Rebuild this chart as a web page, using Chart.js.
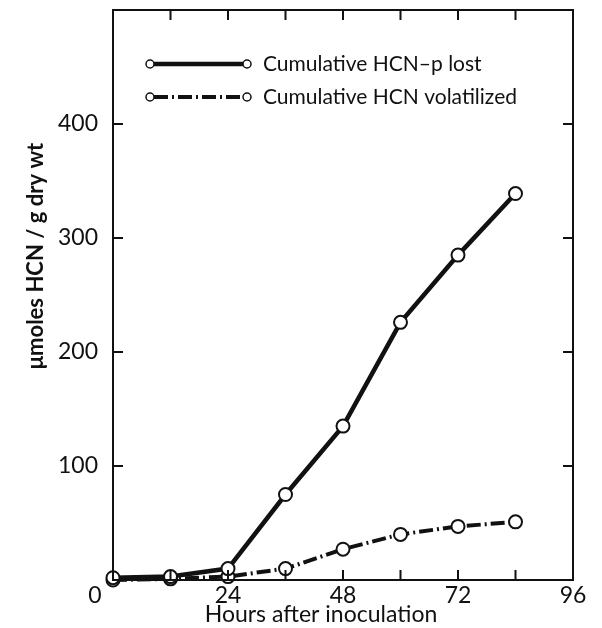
<!DOCTYPE html>
<html>
<head>
<meta charset="utf-8">
<script src="https://cdn.jsdelivr.net/npm/chart.js@4"></script>
<style>
  html, body { margin: 0; padding: 0; background: #fff; }
</style>
</head>
<body>
<canvas id="myChart" width="602" height="628"></canvas>
<script>
// hours after inoculation
var hours = [0, 12, 24, 36, 48, 60, 72, 84];
// cumulative HCN-p lost, umoles / g dry wt
var hcnLost = [2, 3, 10, 75, 135, 226, 285, 339];
// cumulative HCN volatilized
var hcnVolatilized = [0, 1, 3, 10, 27, 40, 47, 51];

var seriesNames = ["Cumulative HCN\u2013p lost", "Cumulative HCN volatilized"];
var xTickLabels = [0, 24, 48, 72, 96];
var yTickLabels = [100, 200, 300, 400];
var xTitle = "Hours after inoculation";
var yTitle = "\u03bcmoles HCN / g dry wt";

var FONT = "Lato, 'DejaVu Sans', sans-serif";

function toPoints(xs, ys) {
  var out = [];
  for (var i = 0; i < xs.length; i++) out.push({ x: xs[i], y: ys[i] });
  return out;
}

// box, inward ticks, tick labels, titles and legend
var framePlugin = {
  id: "frame",
  afterDatasetsDraw: function (chart) {
    var ctx = chart.ctx;
    var a = chart.chartArea;
    var xs = chart.scales.x;
    var ys = chart.scales.y;
    ctx.save();
    ctx.strokeStyle = "#111";
    ctx.lineWidth = 2;
    ctx.strokeRect(a.left, a.top, a.right - a.left, a.bottom - a.top);

    ctx.beginPath();
    for (var h = 12; h < 96; h += 12) {
      var px = xs.getPixelForValue(h);
      ctx.moveTo(px, a.bottom);
      ctx.lineTo(px, a.bottom - 10);
      ctx.moveTo(px, a.top);
      ctx.lineTo(px, a.top + 10);
    }
    for (var v = 100; v < 500; v += 100) {
      var py = ys.getPixelForValue(v);
      ctx.moveTo(a.left, py);
      ctx.lineTo(a.left + 10, py);
      ctx.moveTo(a.right, py);
      ctx.lineTo(a.right - 10, py);
    }
    ctx.stroke();

    ctx.fillStyle = "#111";
    ctx.font = "23px " + FONT;
    ctx.textBaseline = "middle";

    // y tick labels
    ctx.textAlign = "right";
    yTickLabels.forEach(function (t) {
      ctx.fillText(String(t), a.left - 15, ys.getPixelForValue(t));
    });

    // x tick labels, the zero sits in the corner
    ctx.textAlign = "center";
    xTickLabels.forEach(function (t) {
      var px = t === 0 ? a.left - 18 : xs.getPixelForValue(t);
      ctx.fillText(String(t), px, a.bottom + 16);
    });

    ctx.fillText(xTitle, 321, 615);

    ctx.save();
    ctx.translate(36, 256);
    ctx.rotate(-Math.PI / 2);
    ctx.font = "bold 22px " + FONT;
    ctx.fillText(yTitle, 0, 0);
    ctx.restore();

    // legend
    var rows = [64, 97];
    chart.data.datasets.forEach(function (ds, i) {
      var y = rows[i];
      ctx.save();
      ctx.lineWidth = ds.borderWidth;
      ctx.setLineDash(ds.borderDash || []);
      ctx.beginPath();
      ctx.moveTo(154, y);
      ctx.lineTo(243, y);
      ctx.stroke();
      ctx.setLineDash([]);
      ctx.lineWidth = 1.5;
      ctx.fillStyle = "#fff";
      [150, 247].forEach(function (cx) {
        ctx.beginPath();
        ctx.arc(cx, y, 4, 0, Math.PI * 2);
        ctx.fill();
        ctx.stroke();
      });
      ctx.fillStyle = "#111";
      ctx.font = "21px " + FONT;
      ctx.textAlign = "left";
      ctx.fillText(ds.label, 263, y);
      ctx.restore();
    });
    ctx.restore();
  }
};

var ctx = document.getElementById("myChart").getContext("2d");
var myChart = new Chart(ctx, {
  type: "line",
  data: {
    datasets: [
      {
        label: seriesNames[0],
        data: toPoints(hours, hcnLost),
        borderColor: "#111",
        borderWidth: 4.5,
        pointRadius: 6.5,
        pointBorderWidth: 2,
        pointBackgroundColor: "#fff",
        pointBorderColor: "#111",
        tension: 0,
        clip: false
      },
      {
        label: seriesNames[1],
        data: toPoints(hours, hcnVolatilized),
        borderColor: "#111",
        borderWidth: 4,
        borderDash: [14, 4, 2, 4],
        pointRadius: 6.5,
        pointBorderWidth: 2,
        pointBackgroundColor: "#fff",
        pointBorderColor: "#111",
        tension: 0,
        clip: false
      }
    ]
  },
  options: {
    responsive: false,
    animation: false,
    devicePixelRatio: 1,
    layout: { padding: { top: 10, right: 29, left: 113, bottom: 48 } },
    plugins: {
      legend: { display: false },
      tooltip: { enabled: false }
    },
    scales: {
      x: { type: "linear", min: 0, max: 96, display: false },
      y: { type: "linear", min: 0, max: 500, display: false }
    }
  },
  plugins: [framePlugin]
});
</script>
</body>
</html>
